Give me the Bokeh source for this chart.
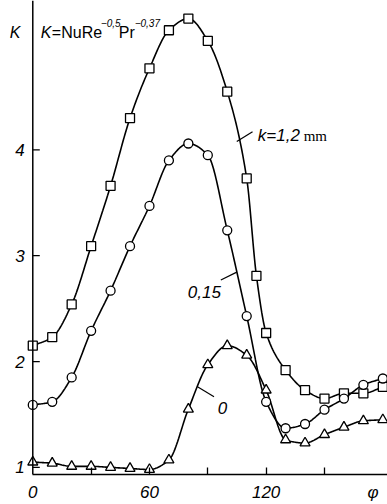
import numpy as np
from bokeh.plotting import figure
from bokeh.models import Range1d, FixedTicker, Label, Span
from bokeh.core.properties import value
from bokeh.embed import file_html
from bokeh.resources import INLINE

# ---- data ----
phi = [0, 10, 20, 30, 40, 50, 60, 70, 80, 90, 100, 110, 120, 130, 140, 150, 160, 170, 180]
phi_sq = [0, 10, 20, 30, 40, 50, 60, 70, 80, 90, 100, 110, 115, 120, 130, 140, 150, 160, 170, 180]
K_sq = [2.15, 2.23, 2.54, 3.09, 3.66, 4.30, 4.77, 5.13, 5.24, 5.03, 4.55, 3.73, 2.81, 2.27,
        1.92, 1.73, 1.65, 1.70, 1.70, 1.76]
K_ci = [1.59, 1.62, 1.85, 2.29, 2.67, 3.09, 3.47, 3.90, 4.06, 3.95, 3.24, 2.43, 1.62,
        1.37, 1.41, 1.545, 1.65, 1.78, 1.84]
K_tr = [1.05, 1.04, 1.01, 1.01, 1.00, 0.99, 0.98, 1.07, 1.55, 1.97, 2.15, 2.06, 1.73,
        1.26, 1.23, 1.31, 1.38, 1.44, 1.45]

x_ticks = [0, 60, 120, 175]
x_minor = [30, 60, 90, 120, 150]
x_labels = {0: "0", 60: "60", 120: "120", 175: "φ"}
y_ticks = [1, 2, 3, 4]
y_labels = ["1", "2", "3", "4"]

curve_labels = ["k=1,2", "0,15", "0"]
curve_label_x = [115.7, 79.7, 95.1]
curve_label_y = [4.132, 2.655, 1.563]
leader_x0 = [104.9, 96.7, 84.7]
leader_y0 = [4.078, 2.770, 1.761]
leader_x1 = [113.0, 104.9, 93.2]
leader_y1 = [4.172, 2.845, 1.667]


def pchip(x, y, n=20):
    x = np.asarray(x, float)
    y = np.asarray(y, float)
    h = np.diff(x)
    d = np.diff(y) / h
    m = np.zeros_like(y)
    for k in range(1, len(y) - 1):
        if d[k - 1] * d[k] <= 0:
            m[k] = 0.0
        else:
            w1 = 2 * h[k] + h[k - 1]
            w2 = h[k] + 2 * h[k - 1]
            m[k] = (w1 + w2) / (w1 / d[k - 1] + w2 / d[k])
    m[0] = d[0]
    m[-1] = d[-1]
    xs, ys = [], []
    for k in range(len(x) - 1):
        t = np.linspace(0, 1, n, endpoint=(k == len(x) - 2))
        h00 = 2 * t**3 - 3 * t**2 + 1
        h10 = t**3 - 2 * t**2 + t
        h01 = -2 * t**3 + 3 * t**2
        h11 = t**3 - t**2
        xs.extend(x[k] + t * h[k])
        ys.extend(h00 * y[k] + h10 * h[k] * m[k] + h01 * y[k + 1] + h11 * h[k] * m[k + 1])
    return xs, ys


FONT = "Liberation Sans"

p = figure(width=387, height=504, output_backend="svg", toolbar_location=None,
           x_range=Range1d(-16.6, 182.4), y_range=Range1d(0.933, 5.411),
           min_border_left=0, min_border_right=0, min_border_top=0, min_border_bottom=28)
p.grid.visible = False
p.outline_line_color = None
p.background_fill_color = "white"
p.border_fill_color = "white"
p.yaxis.visible = False

xax = p.xaxis[0]
xax.ticker = FixedTicker(ticks=x_ticks, minor_ticks=x_minor)
xax.bounds = (0, 182.4)
xax.major_tick_in = 0
xax.major_tick_out = 0
xax.minor_tick_in = 7
xax.minor_tick_out = 0
xax.minor_tick_line_width = 1.3
xax.axis_line_width = 1.5
xax.major_label_overrides = x_labels
xax.major_label_standoff = 8
xax.major_label_text_font = FONT
xax.major_label_text_font_style = "italic"
xax.major_label_text_font_size = "17px"
xax.major_label_text_color = "black"

# y axis drawn at phi = 0
p.add_layout(Span(location=0, dimension="height", line_color="black", line_width=1.5))
p.ray(x=[0] * len(y_ticks), y=y_ticks, length=7, length_units="screen", angle=0,
      line_color="black", line_width=1.3)
p.text(x=[0] * len(y_ticks), y=y_ticks, text=y_labels, x_offset=-8, text_align="right",
       text_baseline="middle", text_font=value(FONT), text_font_style="italic",
       text_font_size="17px", text_color="black")

# curves
for xs_, ys_ in [(phi_sq, K_sq), (phi, K_ci), (phi, K_tr)]:
    sx, sy = pchip(xs_, ys_)
    p.line(sx, sy, line_color="black", line_width=1.6)

p.scatter(phi_sq, K_sq, marker="square", size=9, fill_color="white",
          line_color="black", line_width=1.3)
p.scatter(phi, K_ci, marker="circle", size=9, fill_color="white",
          line_color="black", line_width=1.3)
p.scatter(phi, K_tr, marker="triangle", size=10, fill_color="white",
          line_color="black", line_width=1.3)

# leader lines and curve labels
p.segment(leader_x0, leader_y0, leader_x1, leader_y1, line_color="black", line_width=1.2)
for t, x, y in zip(curve_labels, curve_label_x, curve_label_y):
    p.add_layout(Label(x=x, y=y, text=t, text_font=FONT, text_font_style="italic",
                       text_font_size="17px", text_baseline="alphabetic", text_color="black"))
p.add_layout(Label(x=139.3, y=4.132, text="mm", text_font="Liberation Serif",
                   text_font_size="15px", text_baseline="alphabetic", text_color="black"))

# axis name and formula
p.add_layout(Label(x=-11.8, y=5.11, text="K", text_font=FONT, text_font_style="italic",
                   text_font_size="16px", text_baseline="alphabetic", text_color="black"))
formula = [("K", 4.1, 5.11, "16px", "italic"), ("=NuRe", 9.8, 5.11, "16px", "normal"),
           ("−0,5", 35.0, 5.195, "10px", "italic"), ("Pr", 44.2, 5.11, "16px", "normal"),
           ("−0,37", 52.4, 5.195, "10px", "italic")]
for t, x, y, fs, st in formula:
    p.add_layout(Label(x=x, y=y, text=t, text_font=FONT, text_font_style=st,
                       text_font_size=fs, text_baseline="alphabetic", text_color="black"))

open("out.html", "w").write(file_html(p, INLINE))
